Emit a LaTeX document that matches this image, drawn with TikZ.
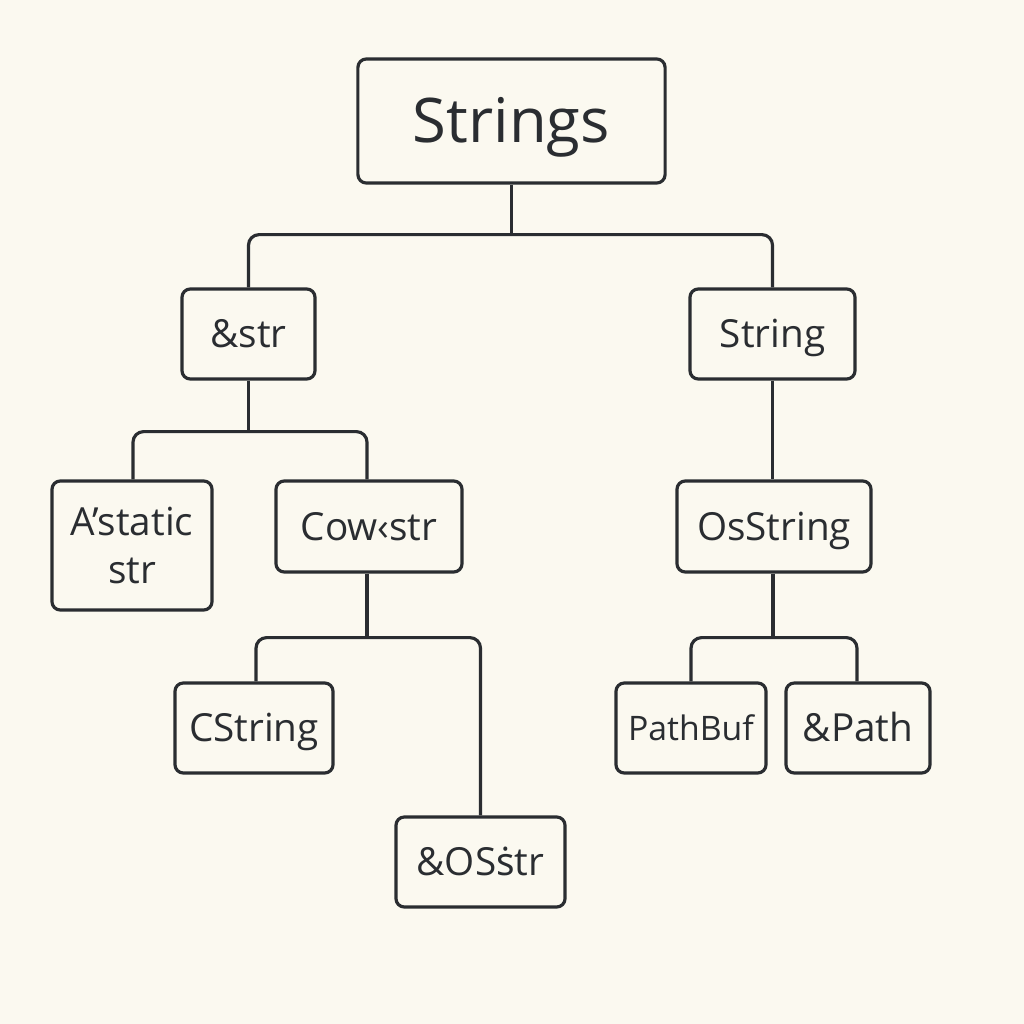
\documentclass[tikz,border=0pt]{standalone}
\usepackage{fontspec}
\setmainfont{Open Sans}
\newfontfamily\alt{Noto Sans}
\definecolor{bg}{HTML}{FBF9F0}
\definecolor{ink}{HTML}{2A2D31}
\begin{document}
\begin{tikzpicture}[x=0.01cm,y=-0.01cm,
  box/.style={draw=ink,line width=0.9pt,rounded corners=2.4pt,fill=bg,inner sep=0pt,text=ink,font=\fontsize{11}{13.5}\selectfont,align=center},
  one/.style={text height=7.85pt,text depth=0pt},
  conn/.style={draw=ink,line width=0.9pt,rounded corners=3pt}]
\fill[bg] (0,0) rectangle (1024,1024);
\useasboundingbox (0,0) rectangle (1024,1024);
\node[box,text height=12.5pt,text depth=0pt,minimum width=3.07cm,minimum height=1.24cm,font=\fontsize{17.5}{20}\selectfont] (strings) at (511.5,121) {Strings};
\node[box,one,minimum width=1.33cm,minimum height=0.90cm] (str) at (248.5,334) {\&str};
\node[box,one,minimum width=1.65cm,minimum height=0.90cm] (string) at (772.5,334) {String};
\node[box,minimum width=1.60cm,minimum height=1.29cm] (static) at (132,545.5) {A’static\\str};
\node[box,one,minimum width=1.86cm,minimum height=0.91cm] (cow) at (369,526.5) {Cow‹str};
\node[box,one,minimum width=1.94cm,minimum height=0.91cm] (osstring) at (774,526.5) {OsString};
\node[box,one,minimum width=1.58cm,minimum height=0.90cm] (cstring) at (254,728) {CString};
\node[box,one,minimum width=1.69cm,minimum height=0.90cm] (osstr) at (480.5,862) {\&OS{\alt ṡ}tr};
\node[box,minimum width=1.50cm,minimum height=0.90cm,font=\fontsize{9.6}{12}\selectfont,text height=6.85pt,text depth=0pt] (pathbuf) at (691,728) {PathBuf};
\node[box,one,minimum width=1.44cm,minimum height=0.90cm] (path) at (858,728) {\&Path};
% connectors
\draw[conn] (strings.south) -- ++(0,50) coordinate (j1);
\draw[conn] (str.north) |- (j1) -| (string.north);
\draw[conn] (str.south) -- ++(0,51) coordinate (j2);
\draw[conn] (static.north -| 133,0) |- (j2) -| (cow.north -| 367,0);
\draw[conn] (string.south) -- (string.south |- osstring.north);
\draw[conn] (cow.south -| 367,0) -- ++(0,64) coordinate (j3);
\draw[conn] (cstring.north -| 256,0) |- (j3) -| (osstr.north);
\draw[conn] (osstring.south -| 773,0) -- ++(0,64) coordinate (j4);
\draw[conn] (pathbuf.north) |- (j4) -| (path.north -| 857,0);
\end{tikzpicture}
\end{document}
